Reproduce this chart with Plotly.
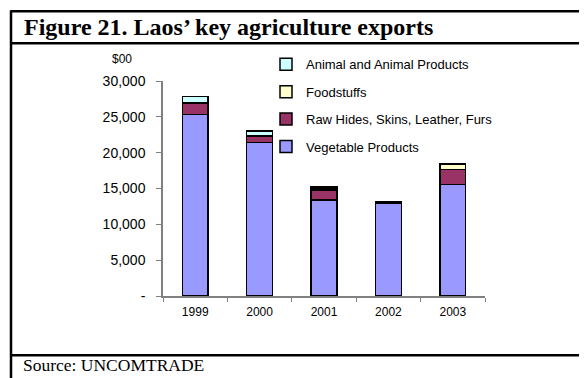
import plotly.graph_objects as go

years = ["1999", "2000", "2001", "2002", "2003"]
vegetable = [25300, 21400, 13400, 12950, 15550]
raw_hides = [1550, 850, 1400, 100, 2100]
foodstuffs = [150, 150, 250, 80, 780]
animal = [850, 650, 250, 80, 50]

series_names = ["Vegetable Products", "Raw Hides, Skins, Leather, Furs",
                "Foodstuffs", "Animal and Animal Products"]
series_values = [vegetable, raw_hides, foodstuffs, animal]
series_colors = ["#9999FF", "#993366", "#FFFFCC", "#CCFFFF"]
legend_ranks = [4, 3, 2, 1]

ytick_vals = [0, 5000, 10000, 15000, 20000, 25000, 30000]
ytick_text = ["-", "5,000", "10,000", "15,000", "20,000", "25,000", "30,000"]

OFF = 8  # page body margin
W, H = 587 - OFF, 378 - OFF
L, R, T, B = 163 - OFF, 485 - OFF, 80.7 - OFF, 295.7 - OFF


def px(x):
    return (x - OFF - L) / (R - L)


def py(y):
    return (B - (y - OFF)) / (B - T)


fig = go.Figure()
for name, vals, col, rk in zip(series_names, series_values, series_colors, legend_ranks):
    fig.add_trace(go.Bar(
        x=years, y=vals, name=name, legendgroup=name, legendrank=rk,
        marker=dict(color=col, line=dict(color="black", width=1.5)),
    ))

line_style = dict(color="black", width=2.5)
shapes = [
    dict(type="line", xref="paper", yref="paper", x0=px(11), x1=px(620), y0=py(11), y1=py(11),
         line=line_style),
    dict(type="line", xref="paper", yref="paper", x0=px(11), x1=px(620), y0=py(43), y1=py(43),
         line=line_style),
    dict(type="line", xref="paper", yref="paper", x0=px(11), x1=px(620), y0=py(355), y1=py(355),
         line=line_style),
    dict(type="line", xref="paper", yref="paper", x0=px(11), x1=px(11), y0=py(10), y1=py(400),
         line=line_style),
]

annotations = [
    dict(text="<b>Figure 21. Laos’ key agriculture exports</b>", xref="paper", yref="paper",
         x=px(22), y=py(27), xanchor="left", yanchor="middle", showarrow=False,
         font=dict(family="Liberation Serif", size=24, color="black")),
    dict(text="Source: UNCOMTRADE", xref="paper", yref="paper",
         x=px(21), y=py(365), xanchor="left", yanchor="middle", showarrow=False,
         font=dict(family="Liberation Serif", size=17.5, color="black")),
    dict(text="$00", xref="paper", yref="paper",
         x=px(134), y=py(59), xanchor="right", yanchor="middle", showarrow=False,
         font=dict(family="Liberation Sans", size=12, color="black")),
]

fig.update_layout(
    width=W, height=H,
    margin=dict(l=L, r=W - R, t=T, b=H - B, pad=0),
    paper_bgcolor="white", plot_bgcolor="white",
    barmode="stack", bargap=0.6,
    font=dict(family="Liberation Sans", size=12, color="black"),
    showlegend=True,
    legend=dict(
        x=px(266), y=py(49), xanchor="left", yanchor="top",
        traceorder="grouped", tracegroupgap=7.5,
        font=dict(family="Liberation Sans", size=13, color="black"),
        bgcolor="rgba(0,0,0,0)", itemwidth=30,
    ),
    xaxis=dict(
        type="category", showline=True, linecolor="#808080", linewidth=1.5,
        ticks="outside", ticklen=4, tickcolor="#808080", tickson="boundaries",
        showgrid=False, zeroline=False, ticklabelstandoff=4,
        tickfont=dict(size=12),
    ),
    yaxis=dict(
        range=[0, 30000], tickvals=ytick_vals, ticktext=ytick_text,
        showline=True, linecolor="#808080", linewidth=1.5,
        ticks="outside", ticklen=5, tickcolor="#808080",
        showgrid=False, zeroline=False, ticklabelstandoff=8,
        tickfont=dict(size=14),
    ),
    shapes=shapes, annotations=annotations,
)

fig.write_html("out.html")
